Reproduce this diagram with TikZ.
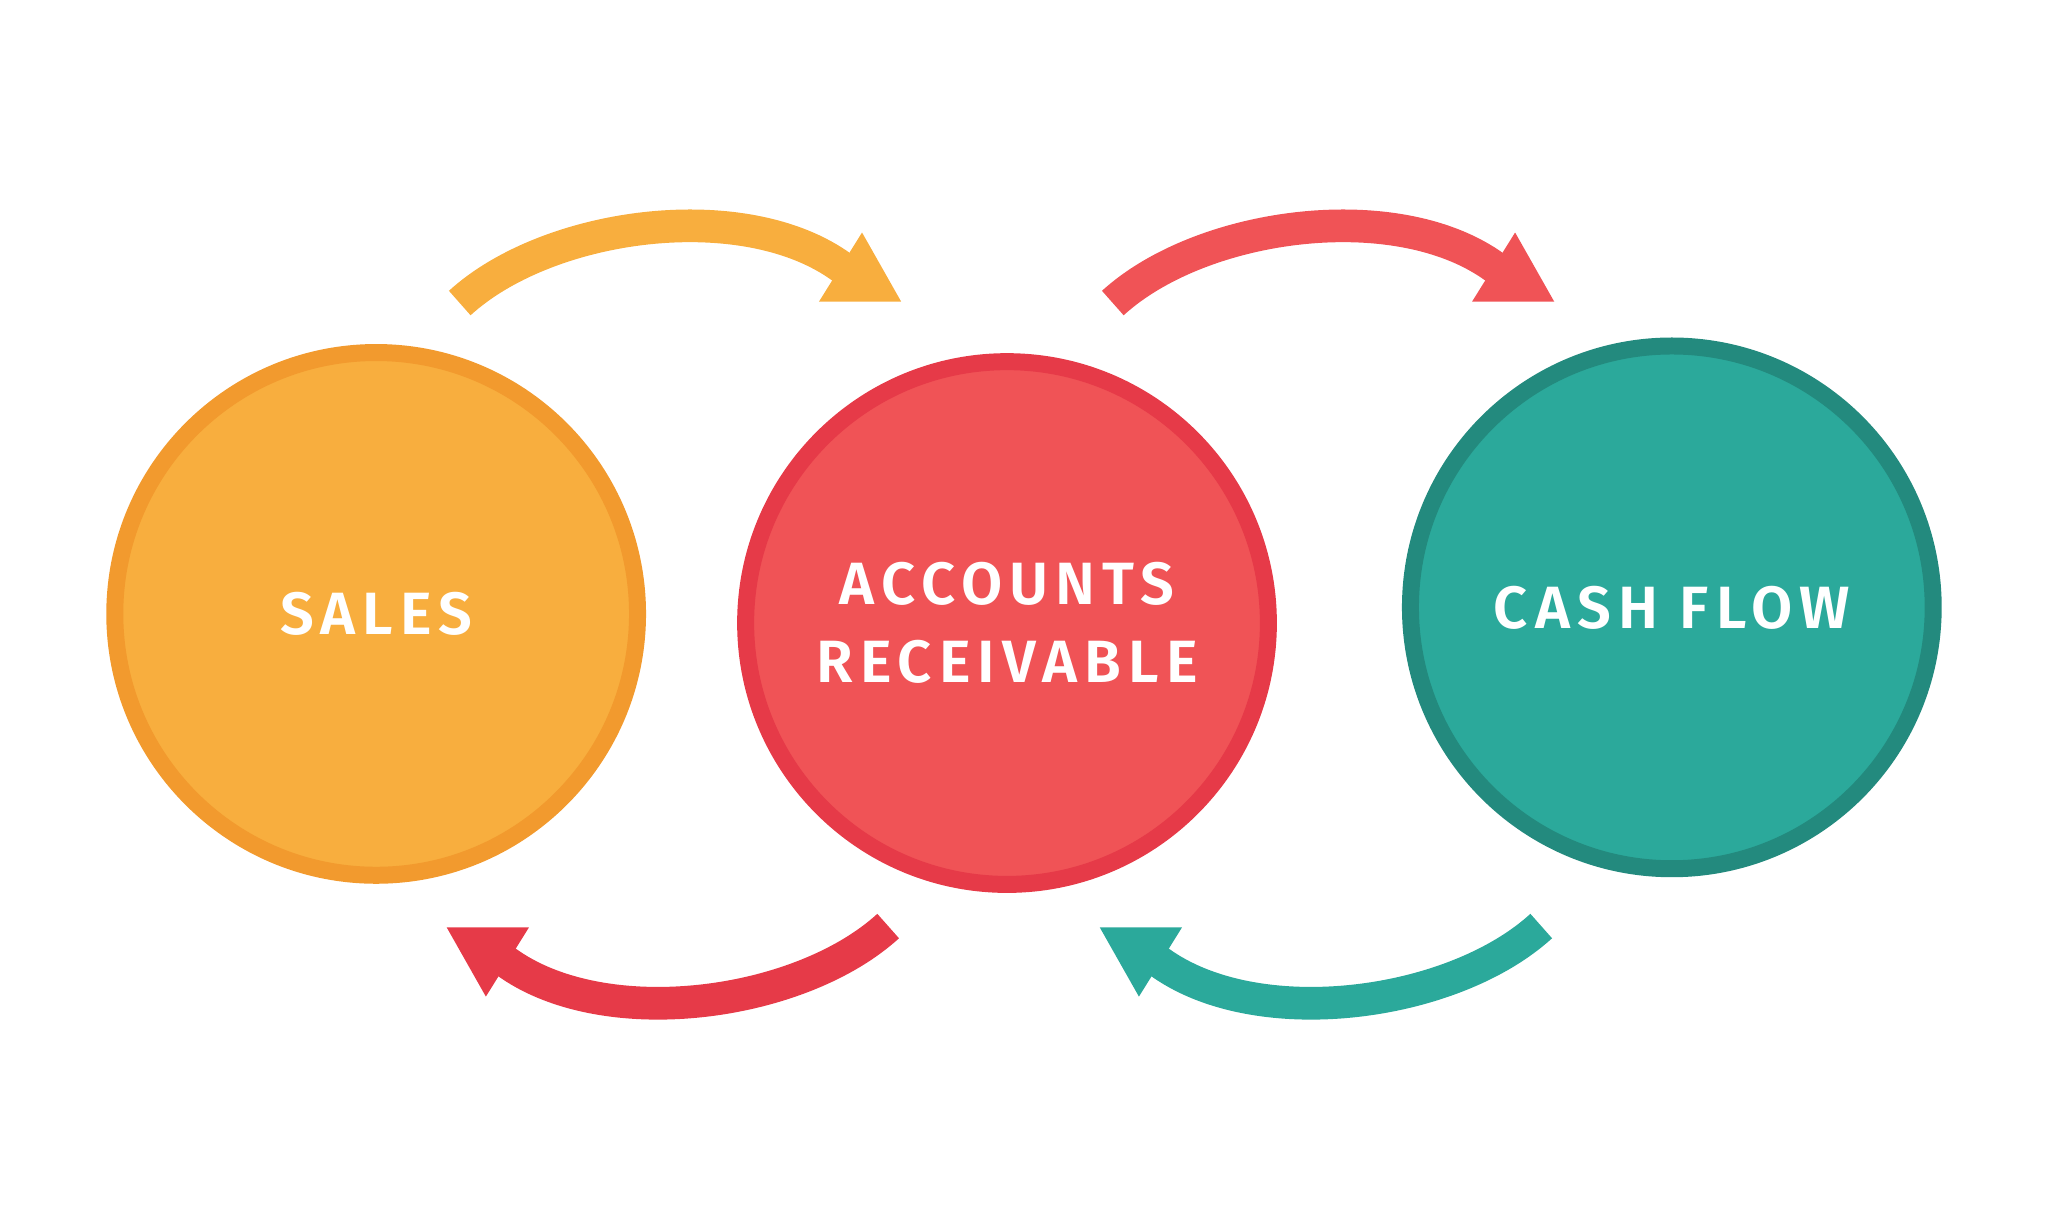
\documentclass[tikz,border=0pt]{standalone}
\usepackage{fontspec}
\setmainfont{Fira Sans}
\newfontfamily\labelfont[LetterSpace=12]{Fira Sans SemiBold}
\definecolor{salesfill}{HTML}{F8AE3E}
\definecolor{salesring}{HTML}{F29A2E}
\definecolor{arfill}{HTML}{F05356}
\definecolor{arring}{HTML}{E63A48}
\definecolor{cashfill}{HTML}{2BA99B}
\definecolor{cashring}{HTML}{238A7E}
\tikzset{
  bubble/.style={circle, draw=#1ring, fill=#1fill, line width=0.13cm, minimum size=4.0cm,
    text=white, font=\labelfont\fontsize{13}{17}\selectfont, align=center},
}
% arc arrow from start through top to a triangular head
\newcommand{\arcarrow}[2]{%
  \begin{scope}[shift={(#1,0)}]
    \coordinate (s) at (352,232);
    \coordinate (e) at (645,205);
    \draw[#2, line width=0.25cm] (s) .. controls (420,170) and (570,150) .. (e);
    \fill[#2] (660,178) -- (690,231) -- (627,231) -- cycle;
  \end{scope}}
\begin{document}
\begin{tikzpicture}[x=0.01cm, y=-0.01cm]
  \useasboundingbox (0,0) rectangle (1568,941);
  % circles
  \node[bubble=sales] (sales) at (288,470) {SALES};
  \node[bubble=ar] (ar) at (771,477) {ACCOUNTS\\RECEIVABLE};
  \node[bubble=cash] (cash) at (1280,465) {CASH FLOW};
  % top arrows
  \arcarrow{0}{salesfill}
  \arcarrow{500}{arfill}
  % bottom arrows
  \begin{scope}[shift={(1032,941)}, xscale=-1, yscale=-1]
    \arcarrow{0}{arring}
    \arcarrow{-500}{cashfill}
  \end{scope}
\end{tikzpicture}
\end{document}
